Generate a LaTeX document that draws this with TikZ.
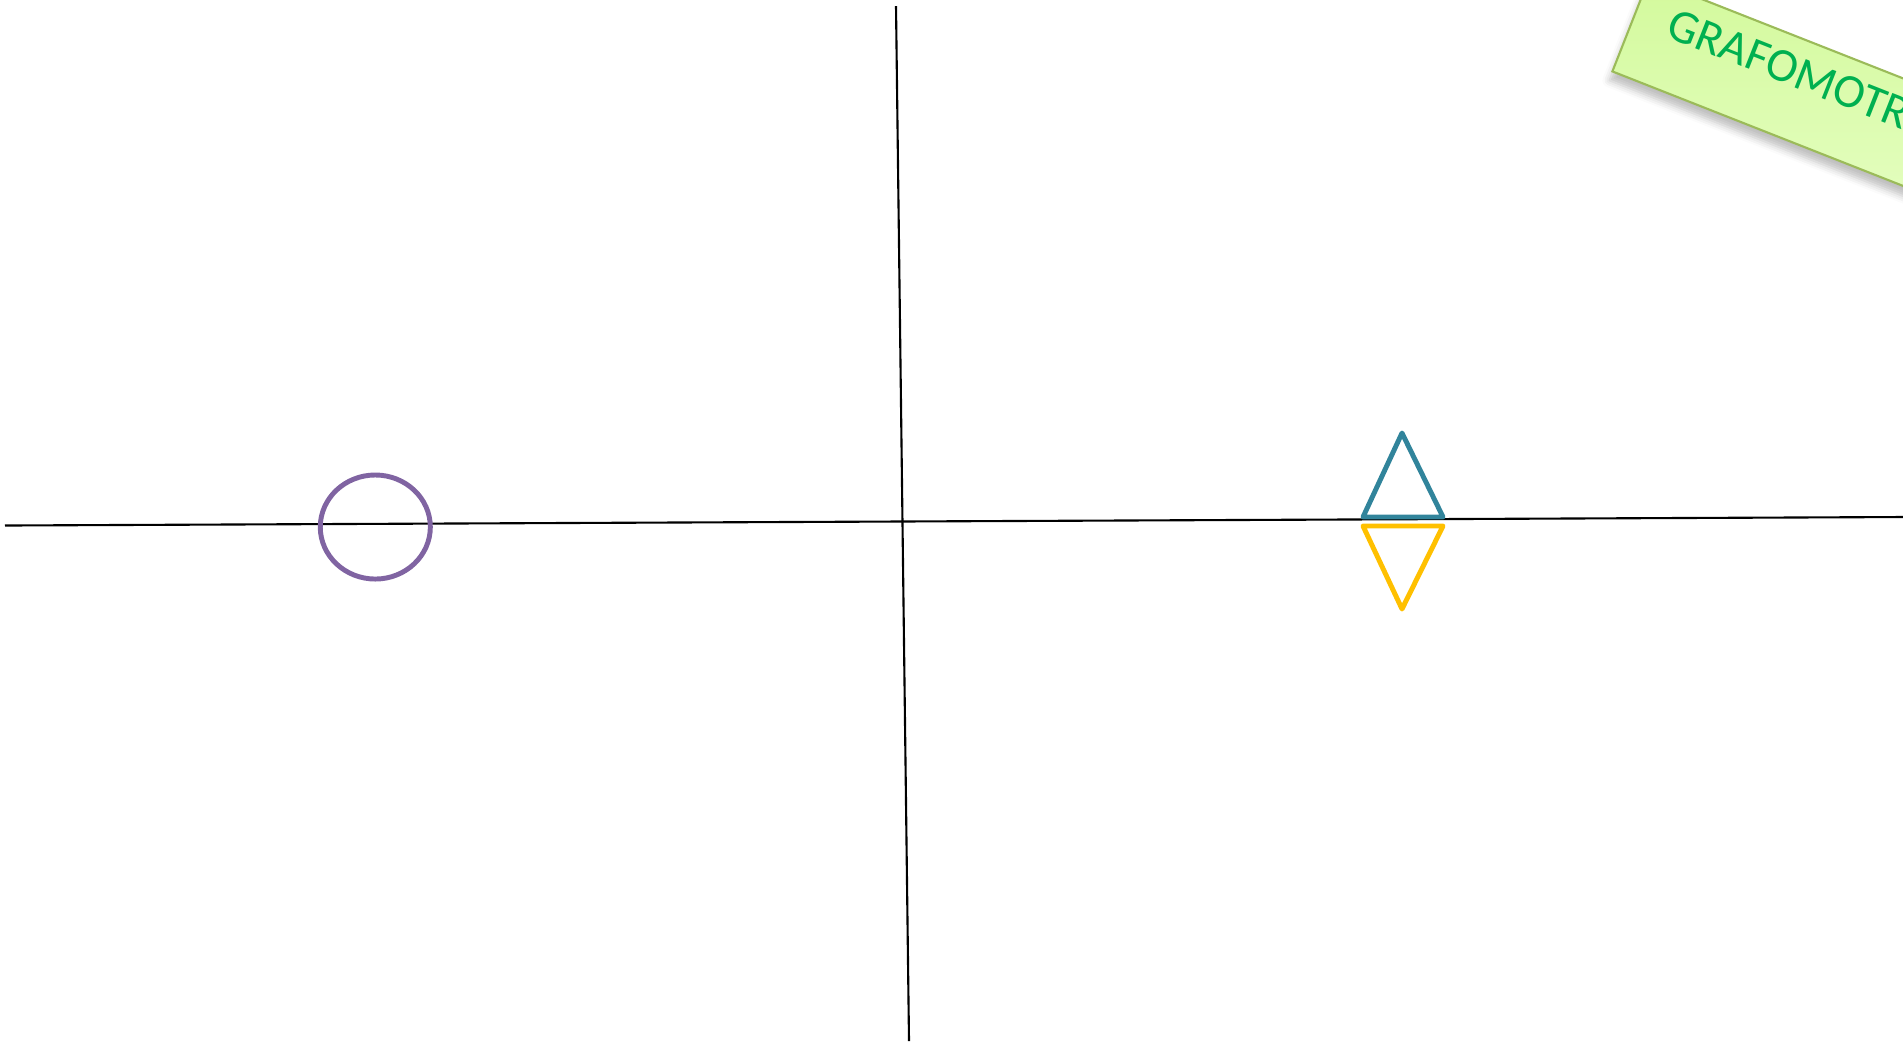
\documentclass[tikz,border=0pt]{standalone}
\usepackage{fontspec}
\newfontfamily\bannerfont{Carlito}
\usetikzlibrary{shapes.geometric,shadows.blur}

\definecolor{ringpurple}{HTML}{8064A2}
\definecolor{upblue}{HTML}{31849B}
\definecolor{downyellow}{HTML}{FFC000}
\definecolor{bannerline}{HTML}{9BBB59}
\definecolor{bannertop}{HTML}{D3F99C}
\definecolor{bannerbot}{HTML}{E6FFC4}
\definecolor{bannertext}{HTML}{00B050}

\begin{document}
\begin{tikzpicture}[x=0.01cm, y=-0.01cm,
  axis/.style={black, line width=0.6pt},
  ring/.style={ellipse, draw=ringpurple, line width=1.4pt, minimum width=1.1cm, minimum height=1.04cm, inner sep=0pt},
  tri/.style={line width=1.4pt, line join=round},
  banner/.style={rectangle, draw=bannerline, line width=0.6pt, top color=bannertop, bottom color=bannerbot,
    text=bannertext, font=\bannerfont\fontsize{13.5}{16}\selectfont,
    inner xsep=0.36cm, inner ysep=0pt, text height=0.48cm, text depth=0.52cm,
    blur shadow={shadow xshift=-0.3mm, shadow yshift=-0.9mm, shadow opacity=25, shadow blur radius=0.7mm}}
]
\useasboundingbox (0,0) rectangle (1903,1041);

% Axes
\coordinate (xleft) at (5,525.5);
\coordinate (xright) at (1903,517);
\coordinate (ytop) at (896,6);
\coordinate (ybottom) at (909,1041);
\draw[axis] (xleft) -- (xright);
\draw[axis] (ytop) -- (ybottom);

% Circle on the left
\node[ring] (ring) at (375.3,527) {};

% Triangles on the right
\draw[tri, draw=upblue] (1402,433) -- (1363,517) -- (1443,517) -- cycle;
\draw[tri, draw=downyellow] (1363,526) -- (1443,526) -- (1402,609) -- cycle;

% Banner
\node[banner, anchor=south west, rotate=-21.5] (banner) at (1611,72) {GRAFOMOTRICIDAD};
\end{tikzpicture}
\end{document}
